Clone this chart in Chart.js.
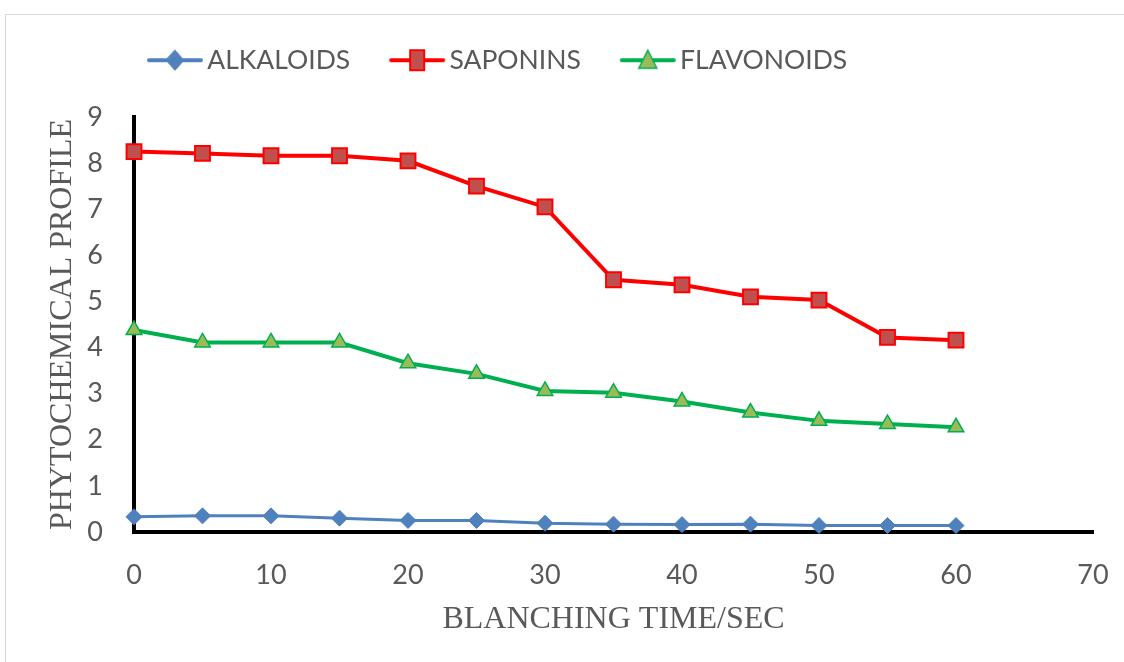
<!DOCTYPE html>
<html>
<head>
<meta charset="utf-8">
<script src="https://cdn.jsdelivr.net/npm/chart.js@4/dist/chart.umd.min.js"></script>
<style>
  html, body { margin: 0; padding: 0; background: #ffffff; }
  #wrap { width: 1124px; height: 662px; position: relative; }
  canvas { display: block; }
</style>
</head>
<body>
<div id="wrap"><canvas id="chart" width="1124" height="662"></canvas></div>
<script>
// ---- data ----
const times      = [0, 5, 10, 15, 20, 25, 30, 35, 40, 45, 50, 55, 60];
const alkaloids  = [0.33, 0.35, 0.35, 0.30, 0.25, 0.25, 0.19, 0.17, 0.16, 0.17, 0.14, 0.14, 0.14];
const saponins   = [8.25, 8.21, 8.16, 8.16, 8.05, 7.50, 7.05, 5.47, 5.36, 5.10, 5.03, 4.22, 4.16];
const flavonoids = [4.38, 4.11, 4.11, 4.11, 3.66, 3.43, 3.06, 3.02, 2.83, 2.59, 2.41, 2.34, 2.27];
const seriesNames = ['ALKALOIDS', 'SAPONINS', 'FLAVONOIDS'];
const xTickValues = [0, 10, 20, 30, 40, 50, 60, 70];
const yTickValues = [0, 1, 2, 3, 4, 5, 6, 7, 8, 9];
const xTitle = 'BLANCHING TIME/SEC';
const yTitle = 'PHYTOCHEMICAL PROFILE';

// ---- legend symbols (line with marker) ----
function legendSymbol(kind, lineColor, lineWidth, fill, stroke, strokeW) {
  const c = document.createElement('canvas');
  c.width = 100; c.height = 26;
  const g = c.getContext('2d');
  g.strokeStyle = lineColor; g.lineWidth = lineWidth; g.lineCap = 'round';
  g.beginPath(); g.moveTo(43, 13); g.lineTo(95, 13); g.stroke();
  const cx = 69, cy = 13;
  g.fillStyle = fill; g.strokeStyle = stroke; g.lineWidth = strokeW;
  g.beginPath();
  if (kind === 'diamond') {
    g.moveTo(cx, cy - 10); g.lineTo(cx + 9, cy); g.lineTo(cx, cy + 10); g.lineTo(cx - 9, cy); g.closePath();
  } else if (kind === 'square') {
    g.rect(cx - 7, cy - 10, 14, 20);
  } else {
    g.moveTo(cx, cy - 10); g.lineTo(cx + 9, cy + 8); g.lineTo(cx - 9, cy + 8); g.closePath();
  }
  g.fill(); g.stroke();
  return c;
}
const symbols = [
  legendSymbol('diamond', '#4F81BD', 4, '#4F81BD', '#4F81BD', 1),
  legendSymbol('square', '#FF0000', 4, '#C0504D', '#FF0000', 2),
  legendSymbol('triangle', '#00B050', 4, '#9BBB59', '#00B050', 1.5)
];

const toPoints = (vals) => times.map((t, i) => ({ x: t, y: vals[i] }));

const framePlugin = {
  id: 'frame',
  beforeDraw(chart) {
    const ctx = chart.ctx;
    ctx.save();
    ctx.strokeStyle = '#D9D9D9';
    ctx.lineWidth = 1;
    ctx.strokeRect(5.5, 14.5, 1200, 700);
    ctx.restore();
  }
};

// extra room below the legend and a horizontal offset for the legend row
const legendPlacePlugin = {
  id: 'legendPlace',
  beforeLayout(chart, args, opts) {
    const lg = chart.legend;
    if (lg && !lg._placePatched) {
      const baseFit = lg.fit.bind(lg);
      const extra = opts.extra || 0;
      lg.fit = function () { baseFit(); this.height += extra; };
      lg._placePatched = true;
    }
  },
  afterLayout(chart, args, opts) {
    const lg = chart.legend;
    if (lg) {
      lg.left += opts.shift || 0;
      lg.right += opts.shift || 0;
    }
  }
};

const tickFont = { family: 'Lato', size: 27 };
const titleFont = { family: 'Liberation Serif', size: 32 };
const textColor = '#595959';
const hiddenGrid = { display: true, drawOnChartArea: false, drawTicks: false, color: 'rgba(0,0,0,0)', lineWidth: 1 };

new Chart(document.getElementById('chart'), {
  type: 'line',
  data: {
    datasets: [
      {
        label: seriesNames[0], data: toPoints(alkaloids),
        borderColor: '#4F81BD', borderWidth: 3, backgroundColor: '#4F81BD',
        pointStyle: 'rectRot', pointRadius: 8, pointBorderWidth: 1,
        pointBackgroundColor: '#4F81BD', pointBorderColor: '#4F81BD', clip: false
      },
      {
        label: seriesNames[1], data: toPoints(saponins),
        borderColor: '#FF0000', borderWidth: 4, backgroundColor: '#C0504D',
        pointStyle: 'rect', pointRadius: 10.5, pointBorderWidth: 2,
        pointBackgroundColor: '#C0504D', pointBorderColor: '#FF0000', clip: false
      },
      {
        label: seriesNames[2], data: toPoints(flavonoids),
        borderColor: '#00B050', borderWidth: 4, backgroundColor: '#9BBB59',
        pointStyle: 'triangle', pointRadius: 9, pointBorderWidth: 1.5,
        pointBackgroundColor: '#9BBB59', pointBorderColor: '#00B050', clip: false
      }
    ]
  },
  options: {
    responsive: false,
    animation: false,
    layout: { padding: { left: 0, right: 31, top: 37, bottom: 0 } },
    plugins: {
      tooltip: { enabled: false },
      legendPlace: { extra: 33.5, shift: 108 },
      legend: {
        position: 'top',
        align: 'start',
        labels: {
          usePointStyle: true,
          pointStyleWidth: 76,
          padding: 10,
          color: textColor,
          font: { family: 'Lato', size: 26.5 },
          generateLabels(chart) {
            return chart.data.datasets.map((ds, i) => ({
              text: ds.label,
              pointStyle: symbols[i],
              fillStyle: 'rgba(0,0,0,0)',
              strokeStyle: 'rgba(0,0,0,0)',
              lineWidth: 0,
              hidden: false,
              datasetIndex: i,
              fontColor: textColor
            }));
          }
        }
      }
    },
    scales: {
      x: {
        type: 'linear',
        min: xTickValues[0],
        max: xTickValues[xTickValues.length - 1],
        afterFit(s) { s.height = 130; },
        afterBuildTicks(s) { s.ticks = xTickValues.map(v => ({ value: v })); },
        grid: hiddenGrid,
        border: { display: true, color: '#000000', width: 4 },
        ticks: { padding: 14, color: textColor, font: { family: 'Lato', size: 27, lineHeight: 2.2 }, maxRotation: 0, autoSkip: false },
        title: { display: true, text: xTitle, color: textColor, font: titleFont, padding: { top: 0, bottom: 23.3 } }
      },
      y: {
        type: 'linear',
        min: yTickValues[0],
        max: yTickValues[yTickValues.length - 1],
        afterFit(s) { s.width = 134; },
        afterBuildTicks(s) { s.ticks = yTickValues.map(v => ({ value: v })); },
        grid: hiddenGrid,
        border: { display: true, color: '#000000', width: 4 },
        ticks: { padding: 31, color: textColor, font: tickFont, autoSkip: false },
        title: { display: true, text: yTitle, color: textColor, font: titleFont, padding: { top: 43.3, bottom: 0 } }
      }
    }
  },
  plugins: [framePlugin, legendPlacePlugin]
});
</script>
</body>
</html>
